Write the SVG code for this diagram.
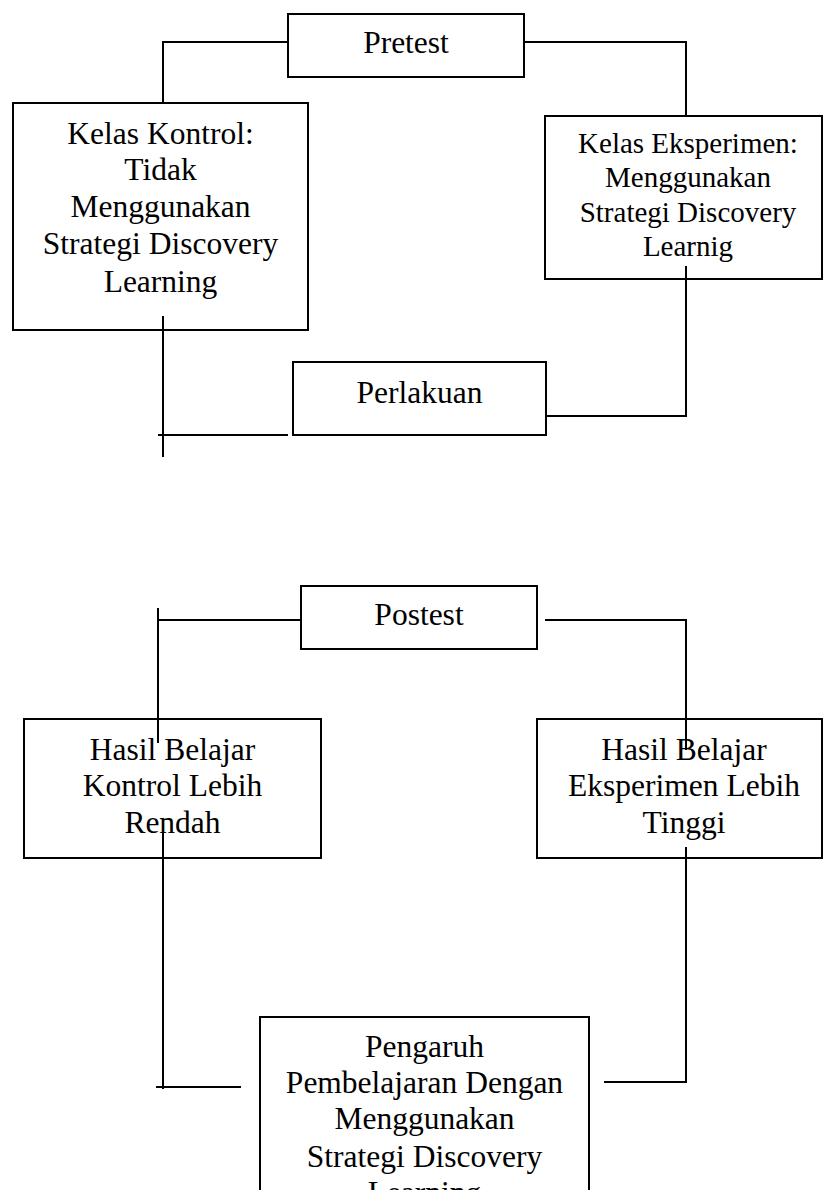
<svg xmlns="http://www.w3.org/2000/svg" width="823" height="1190" viewBox="0 0 823 1190">
<style>
.box{fill:#fff;stroke:#000;stroke-width:2}
.ln{fill:none;stroke:#000;stroke-width:2}
text{font-family:"Liberation Serif","Times New Roman",serif;font-size:31.5px;fill:#000;text-anchor:middle}
.sm{font-size:29px}
</style>
<rect width="823" height="1190" fill="#fff"/>
<g id="pretest"><rect class="box" x="288" y="14" width="236" height="63"/><text x="406" y="53">Pretest</text></g>
<g id="kelas-kontrol"><rect class="box" x="13" y="103" width="295" height="227"/>
<text x="160.5" y="144">Kelas Kontrol:</text><text x="160.5" y="180">Tidak</text><text x="160.5" y="217">Menggunakan</text><text x="160.5" y="254">Strategi Discovery</text><text x="160.5" y="292">Learning</text></g>
<g id="kelas-eksperimen"><rect class="box" x="545" y="116" width="277" height="163"/>
<text class="sm" x="688" y="153">Kelas Eksperimen:</text><text class="sm" x="688" y="187">Menggunakan</text><text class="sm" x="688" y="222">Strategi Discovery</text><text class="sm" x="688" y="256">Learnig</text></g>
<g id="perlakuan"><rect class="box" x="293" y="362" width="253" height="73"/><text x="419.5" y="403">Perlakuan</text></g>
<g id="postest"><rect class="box" x="301" y="586" width="236" height="63"/><text x="419" y="625">Postest</text></g>
<g id="hasil-kontrol"><rect class="box" x="24" y="719" width="297" height="139"/>
<text x="172.5" y="760">Hasil Belajar</text><text x="172.5" y="796">Kontrol Lebih</text><text x="172.5" y="833">Rendah</text></g>
<g id="hasil-eksperimen"><rect class="box" x="537" y="719" width="285" height="139"/>
<text x="684" y="760">Hasil Belajar</text><text x="684" y="796">Eksperimen Lebih</text><text x="684" y="833">Tinggi</text></g>
<g id="pengaruh"><rect class="box" x="260" y="1017" width="329" height="200"/>
<text x="424.5" y="1057">Pengaruh</text><text x="424.5" y="1093">Pembelajaran Dengan</text><text x="424.5" y="1129">Menggunakan</text><text x="424.5" y="1167">Strategi Discovery</text><text x="424.5" y="1203">Learning</text></g>
<g id="connectors">
<polyline class="ln" points="288,42 163,42 163,103"/>
<polyline class="ln" points="524,42 686,42 686,116"/>
<line class="ln" x1="163" y1="316" x2="163" y2="457"/>
<line class="ln" x1="158" y1="435" x2="288" y2="435"/>
<polyline class="ln" points="686,266 686,416 546,416"/>
<line class="ln" x1="301" y1="620" x2="158" y2="620"/>
<line class="ln" x1="158" y1="608" x2="158" y2="743"/>
<polyline class="ln" points="545,620 686,620 686,750"/>
<line class="ln" x1="163" y1="833" x2="163" y2="1089"/>
<line class="ln" x1="156" y1="1087" x2="241" y2="1087"/>
<polyline class="ln" points="686,847 686,1082 604,1082"/>
</g>
</svg>
